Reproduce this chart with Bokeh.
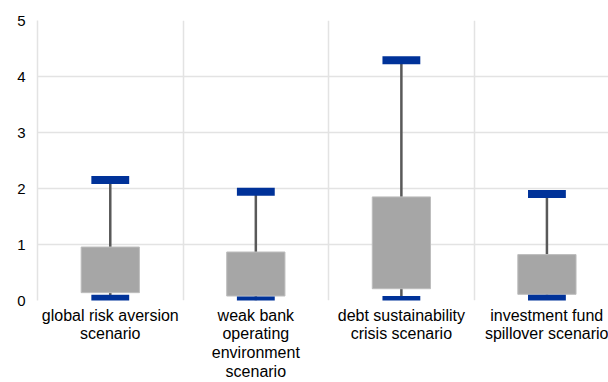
from bokeh.plotting import figure
from bokeh.models import Range1d, FixedTicker, Grid, ColumnDataSource
from bokeh.embed import file_html
from bokeh.resources import INLINE

categories = ["global risk aversion\nscenario",
              "weak bank\noperating\nenvironment\nscenario",
              "debt sustainability\ncrisis scenario",
              "investment fund\nspillover scenario"]
min_vals = [0.03, 0.00, 0.01, 0.03]
q1_vals = [0.14, 0.08, 0.21, 0.11]
q3_vals = [0.955, 0.866, 1.85, 0.82]
max_vals = [2.15, 1.94, 4.29, 1.90]
y_ticks = [0, 1, 2, 3, 4, 5]

xs = list(range(len(categories)))
src = ColumnDataSource(dict(x=xs, lo=min_vals, q1=q1_vals, q3=q3_vals, hi=max_vals))

p = figure(width=608, height=382, output_backend="svg", toolbar_location=None,
           x_range=Range1d(-0.5, 3.423), y_range=Range1d(0, 5),
           min_border_left=37, min_border_right=0, min_border_top=20, min_border_bottom=82)
p.outline_line_color = None
p.background_fill_color = "white"

# grids
p.xgrid.visible = False
p.ygrid.grid_line_color = "#e3e3e3"
p.ygrid.grid_line_width = 1.5
p.ygrid.ticker = FixedTicker(ticks=y_ticks)
vg = Grid(dimension=0, ticker=FixedTicker(ticks=[0.5, 1.5, 2.5]),
          grid_line_color="#e3e3e3", grid_line_width=1.5)
p.add_layout(vg)

# whiskers
p.segment(x0="x", y0="lo", x1="x", y1="hi", source=src, line_color="#595959", line_width=2.5)
# boxes
p.vbar(x="x", bottom="q1", top="q3", width=0.40, source=src,
       fill_color="#a6a6a6", line_color="#bdbdbd", line_width=1)
# caps
p.rect(x="x", y="hi", width=0.26, height=8, height_units="screen", source=src,
       fill_color="#003299", line_color=None)
p.rect(x="x", y="lo", width=0.26, height=8, height_units="screen", source=src,
       fill_color="#003299", line_color=None)

# axes
p.xaxis.ticker = FixedTicker(ticks=xs)
p.xaxis.major_label_overrides = {i: c for i, c in enumerate(categories)}
p.yaxis.ticker = FixedTicker(ticks=y_ticks)
for ax in (p.xaxis[0], p.yaxis[0]):
    ax.axis_line_color = None
    ax.major_tick_line_color = None
    ax.minor_tick_line_color = None
    ax.major_tick_out = 0
    ax.major_tick_in = 0
    ax.major_label_text_font = "Liberation Sans"
    ax.major_label_text_color = "#000000"
p.yaxis.axis_line_color = "#e3e3e3"
p.yaxis.axis_line_width = 1.5
p.xaxis.major_label_text_font_size = "16px"
p.xaxis.major_label_text_line_height = 1.1
p.yaxis.major_label_text_font_size = "15px"
p.yaxis.major_label_standoff = 12
p.xaxis.major_label_standoff = 6

open("out.html", "w").write(file_html(p, INLINE))
